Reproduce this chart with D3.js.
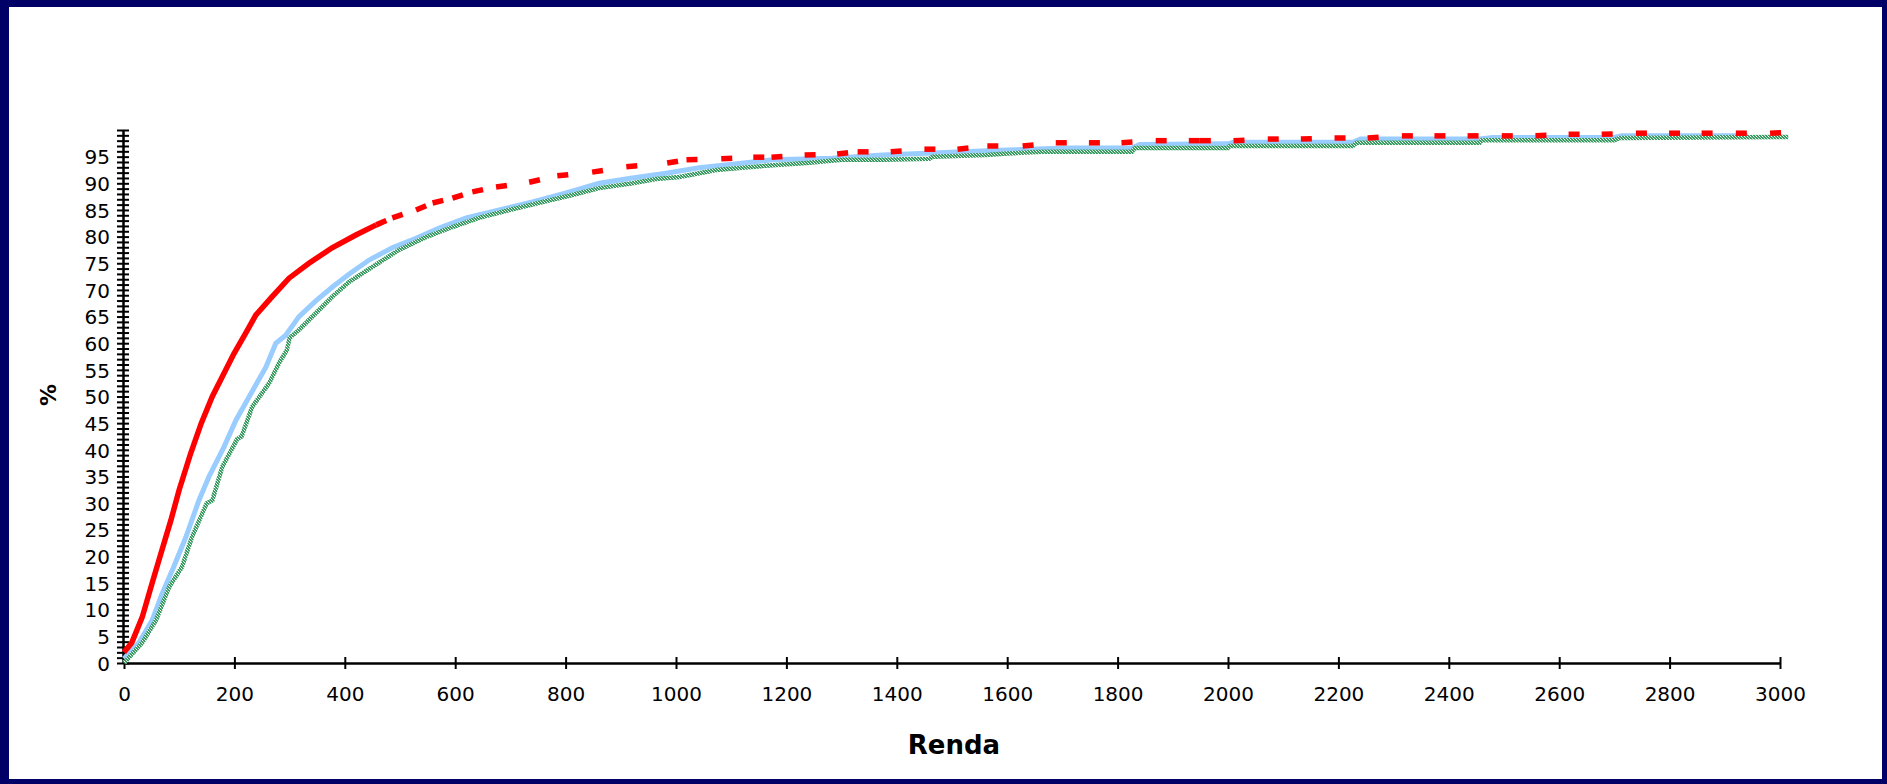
<!DOCTYPE html>
<html>
<head>
<meta charset="utf-8">
<script src="https://cdn.jsdelivr.net/npm/d3@7"></script>
<style>
  body { margin: 0; background: #000066; overflow: hidden; }
  text { font-family: "DejaVu Sans", sans-serif; fill: #000; }
</style>
</head>
<body>
<div id="plot"></div>
<script>
// values (Renda, cumulative %)
const redX = [0, 14, 33, 51, 67, 85, 100, 121, 140, 160, 178, 199, 221, 239, 268, 299, 335, 377, 420, 457,
  486, 529, 559, 595, 631, 674, 734, 785, 848, 910, 984, 1019, 1082, 1140, 1173, 1233, 1292, 1329, 1389,
  1450, 1510, 1564, 1628, 1688, 1748, 1807, 1869, 1929, 1949, 2010, 2072, 2132, 2193, 2253, 2315, 2374,
  2434, 2496, 2557, 2617, 2677, 2739, 2799, 2858, 2920, 2982, 3002]
const redY = [2, 3.8, 8.6, 15, 20.6, 26.8, 32.5, 39.4, 45, 50, 53.7, 58, 62, 65.3, 68.7, 72.2, 75, 77.9, 80.3, 82.2,
  83.5, 85, 86.3, 87.2, 88.4, 89.3, 90.2, 91.4, 92.1, 93.1, 93.8, 94.4, 94.6, 94.9, 94.9, 95.3, 95.5, 95.9, 95.9,
  96.4, 96.4, 97, 97, 97.6, 97.6, 97.6, 98, 98, 98, 98, 98.3, 98.3, 98.5, 98.5, 98.9, 98.9,
  98.9, 98.9, 98.9, 99.2, 99.2, 99.4, 99.4, 99.4, 99.4, 99.4, 99.5]

const blueX = [0, 27, 51, 69, 90, 112, 136, 154, 181, 203, 227, 257, 275, 293, 317, 348, 377, 408, 444, 486,
  529, 571, 620, 680, 740, 801, 861, 921, 982, 1042, 1102, 1175, 1283, 1374, 1465, 1586, 1707, 1826, 1840,
  2000, 2010, 2226, 2240, 2456, 2480, 2700, 2713, 2942]
const blueY = [0.8, 3.8, 8, 13, 18, 23.6, 30.6, 35, 40.5, 45.6, 50, 55.5, 60, 61.5, 65, 68, 70.5, 73, 75.6, 77.9,
  79.7, 81.6, 83.5, 85, 86.5, 88.2, 90, 91, 91.9, 92.9, 93.6, 94.4, 94.7, 95.3, 95.7, 96.2, 96.6, 96.6, 97.3,
  97.4, 97.7, 97.7, 98.3, 98.3, 98.6, 98.6, 98.9, 98.9]

const greenX = [0, 33, 58, 82, 105, 123, 150, 160, 178, 205, 213, 232, 263, 281, 295, 300, 317, 348, 377, 408,
  450, 498, 547, 595, 643, 698, 758, 812, 861, 921, 964, 1006, 1042, 1073, 1120, 1175, 1236, 1301, 1374, 1459,
  1465, 1562, 1600, 1664, 1826, 1831, 2000, 2003, 2226, 2233, 2456, 2460, 2700, 2710, 3015]
const greenY = [0, 3.8, 8, 14.3, 18, 23.6, 30, 30.5, 36.8, 42, 42.5, 48, 52.5, 56.3, 58.7, 61, 62.5, 65.7, 68.7, 71.5,
  74.3, 77.5, 79.9, 81.8, 83.5, 85, 86.5, 87.8, 89.1, 90, 90.8, 91.2, 91.9, 92.5, 92.9, 93.4, 93.8, 94.4, 94.4, 94.6,
  95, 95.3, 95.6, 95.9, 95.9, 96.6, 96.6, 97, 97, 97.6, 97.6, 98.1, 98.1, 98.5, 98.7]

const xTicks = d3.range(0, 3001, 200)
const yLabels = d3.range(0, 96, 5)
const yMinor = d3.range(0, 101, 1)
const redDashFrom = 457   // beyond this the red series is drawn as separate dashes

const W = 1887, H = 784
const x = d3.scaleLinear().domain([0, 3000]).range([124, 1780])
const y = d3.scaleLinear().domain([0, 100]).range([663, 130])

const svg = d3.select("#plot").append("svg")
  .attr("width", W)
  .attr("height", H)

// white panel inside the navy frame
svg.append("rect")
  .attr("x", 9).attr("y", 7)
  .attr("width", 1882 - 9).attr("height", 779 - 7)
  .attr("fill", "#fff")

// hatched green pen: green with small light holes
const pat = svg.append("defs").append("pattern")
  .attr("id", "greenPat")
  .attr("width", 3).attr("height", 3)
  .attr("patternUnits", "userSpaceOnUse")
pat.append("rect").attr("width", 3).attr("height", 3).attr("fill", "#3a9a62")
pat.append("rect").attr("x", 1).attr("y", 1).attr("width", 1).attr("height", 1).attr("fill", "#fff")
pat.append("rect").attr("x", 0).attr("y", 0).attr("width", 1).attr("height", 1).attr("fill", "#cfeedd")
pat.append("rect").attr("x", 2).attr("y", 2).attr("width", 1).attr("height", 1).attr("fill", "#9fd6b4")

// x axis
const gx = svg.append("g")
  .attr("transform", `translate(0, ${y(0)})`)
  .call(d3.axisBottom(x).tickValues(xTicks).tickFormat(d3.format("d")).tickSizeOuter(0))
gx.select(".domain").attr("stroke", "#000").attr("stroke-width", 2.5)
gx.selectAll(".tick line").attr("y1", -6).attr("y2", 6).attr("stroke-width", 2)
gx.selectAll(".tick text")
  .attr("y", 38).attr("dy", 0)
  .style("font-size", "20px")

// y axis: minor ticks every 1 %, labels every 5 %
const gy = svg.append("g")
  .attr("transform", `translate(${x(0) - 1}, 0)`)
  .call(d3.axisLeft(y).tickValues(yMinor).tickFormat(d => yLabels.includes(d) ? d : "").tickSizeOuter(0))
gy.select(".domain").attr("stroke", "#000").attr("stroke-width", 2.5)
gy.selectAll(".tick line").attr("x1", -6).attr("x2", 6).attr("stroke-width", 2)
gy.selectAll(".tick text")
  .attr("x", -13).attr("dy", "0.36em")
  .style("font-size", "20px")

svg.append("text")
  .attr("transform", "translate(56, 395) rotate(-90)")
  .style("text-anchor", "middle")
  .style("font-size", "22px")
  .style("font-weight", "bold")
  .text("%")

svg.append("text")
  .attr("x", 954)
  .attr("y", 754)
  .style("text-anchor", "middle")
  .style("font-size", "26px")
  .style("font-weight", "bold")
  .text("Renda")

const line = d3.line()
  .x(d => x(d[0]))
  .y(d => y(d[1]))

const blue = blueX.map((v, i) => [v, blueY[i]])
const green = greenX.map((v, i) => [v, greenY[i]])
const red = redX.map((v, i) => [v, redY[i]])

svg.append("path")
  .datum(blue)
  .attr("fill", "none")
  .attr("stroke", "#99ccff")
  .attr("stroke-width", 5)
  .attr("d", line)

svg.append("path")
  .datum(green)
  .attr("fill", "none")
  .attr("stroke", "url(#greenPat)")
  .attr("stroke-width", 4.5)
  .attr("d", line)

// red: solid while points are dense, then one short dash per segment
svg.append("path")
  .datum(red.filter(d => d[0] <= redDashFrom))
  .attr("fill", "none")
  .attr("stroke", "#ff0000")
  .attr("stroke-width", 5.5)
  .attr("d", line)

const redSegs = d3.pairs(red).filter(p => p[0][0] >= redDashFrom)
svg.append("g")
  .selectAll("line")
  .data(redSegs)
  .join("line")
  .attr("x1", d => x(d[0][0]))
  .attr("y1", d => y(d[0][1]))
  .attr("x2", d => x(d[1][0]))
  .attr("y2", d => y(d[1][1]))
  .attr("stroke", "#ff0000")
  .attr("stroke-width", 5.5)
  .attr("stroke-dasharray", "11 1000")
</script>
</body>
</html>
